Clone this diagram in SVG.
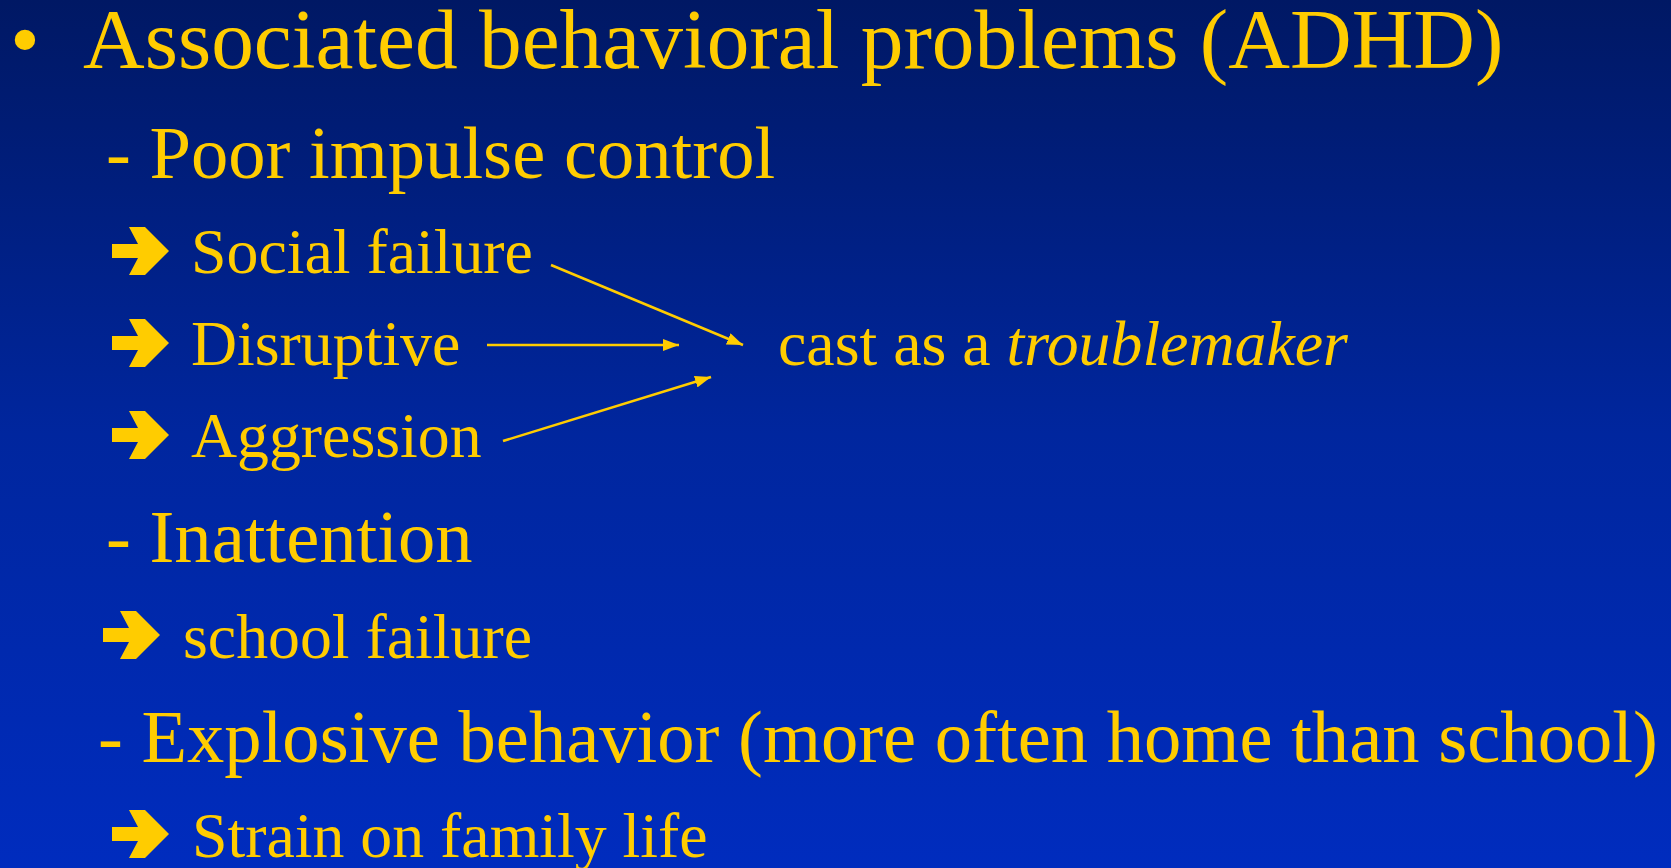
<svg xmlns="http://www.w3.org/2000/svg" width="1671" height="868" viewBox="0 0 1671 868">
<defs>
<linearGradient id="bg" x1="0" y1="0" x2="0" y2="1">
<stop offset="0" stop-color="#001864"/>
<stop offset="0.5" stop-color="#00269e"/>
<stop offset="1" stop-color="#002cbe"/>
</linearGradient>
<polygon id="barrow" points="0,-7 26,-7 17,-24 33,-24 57,0 33,24 17,24 26,7 0,7" fill="#FFCC00"/>
<marker id="ah" viewBox="0 0 16 12" markerWidth="16" markerHeight="12" refX="16" refY="6" orient="auto" markerUnits="userSpaceOnUse">
<polygon points="0,0 16,6 0,12" fill="#FFCC00"/>
</marker>
</defs>
<style>
text{font-family:"Liberation Serif","Times New Roman",serif;fill:#FFCC00}
.t1{font-size:85.4px}
.t2{font-size:74.6px}
.t3{font-size:63.8px}
.conn line{stroke:#FFCC00;stroke-width:2.5;marker-end:url(#ah)}
</style>
<rect x="0" y="0" width="1671" height="868" fill="url(#bg)"/>
<g id="title">
<text class="t1" x="10" y="68">•</text>
<text class="t1" x="83" y="68">Associated behavioral problems (ADHD)</text>
</g>
<g id="poor-impulse">
<text class="t2" x="106" y="178">- Poor impulse control</text>
</g>
<g id="social-failure">
<use href="#barrow" x="112" y="251"/>
<text class="t3" x="191" y="273">Social failure</text>
</g>
<g id="disruptive">
<use href="#barrow" x="112" y="343"/>
<text class="t3" x="191" y="365">Disruptive</text>
</g>
<g id="aggression">
<use href="#barrow" x="112" y="435"/>
<text class="t3" x="191" y="457">Aggression</text>
</g>
<g id="troublemaker">
<text class="t3" x="778" y="365">cast as a <tspan font-style="italic">troublemaker</tspan></text>
</g>
<g id="inattention">
<text class="t2" x="106" y="562">- Inattention</text>
</g>
<g id="school-failure">
<use href="#barrow" x="103" y="635"/>
<text class="t3" x="183" y="658">school failure</text>
</g>
<g id="explosive">
<text class="t2" x="98" y="762">- Explosive behavior (more often home than school)</text>
</g>
<g id="strain">
<use href="#barrow" x="112" y="834"/>
<text class="t3" x="192" y="857">Strain on family life</text>
</g>
<g id="connectors" class="conn">
<line x1="551" y1="265" x2="743" y2="345"/>
<line x1="487" y1="345" x2="679" y2="345"/>
<line x1="503" y1="441" x2="711" y2="377"/>
</g>
</svg>
